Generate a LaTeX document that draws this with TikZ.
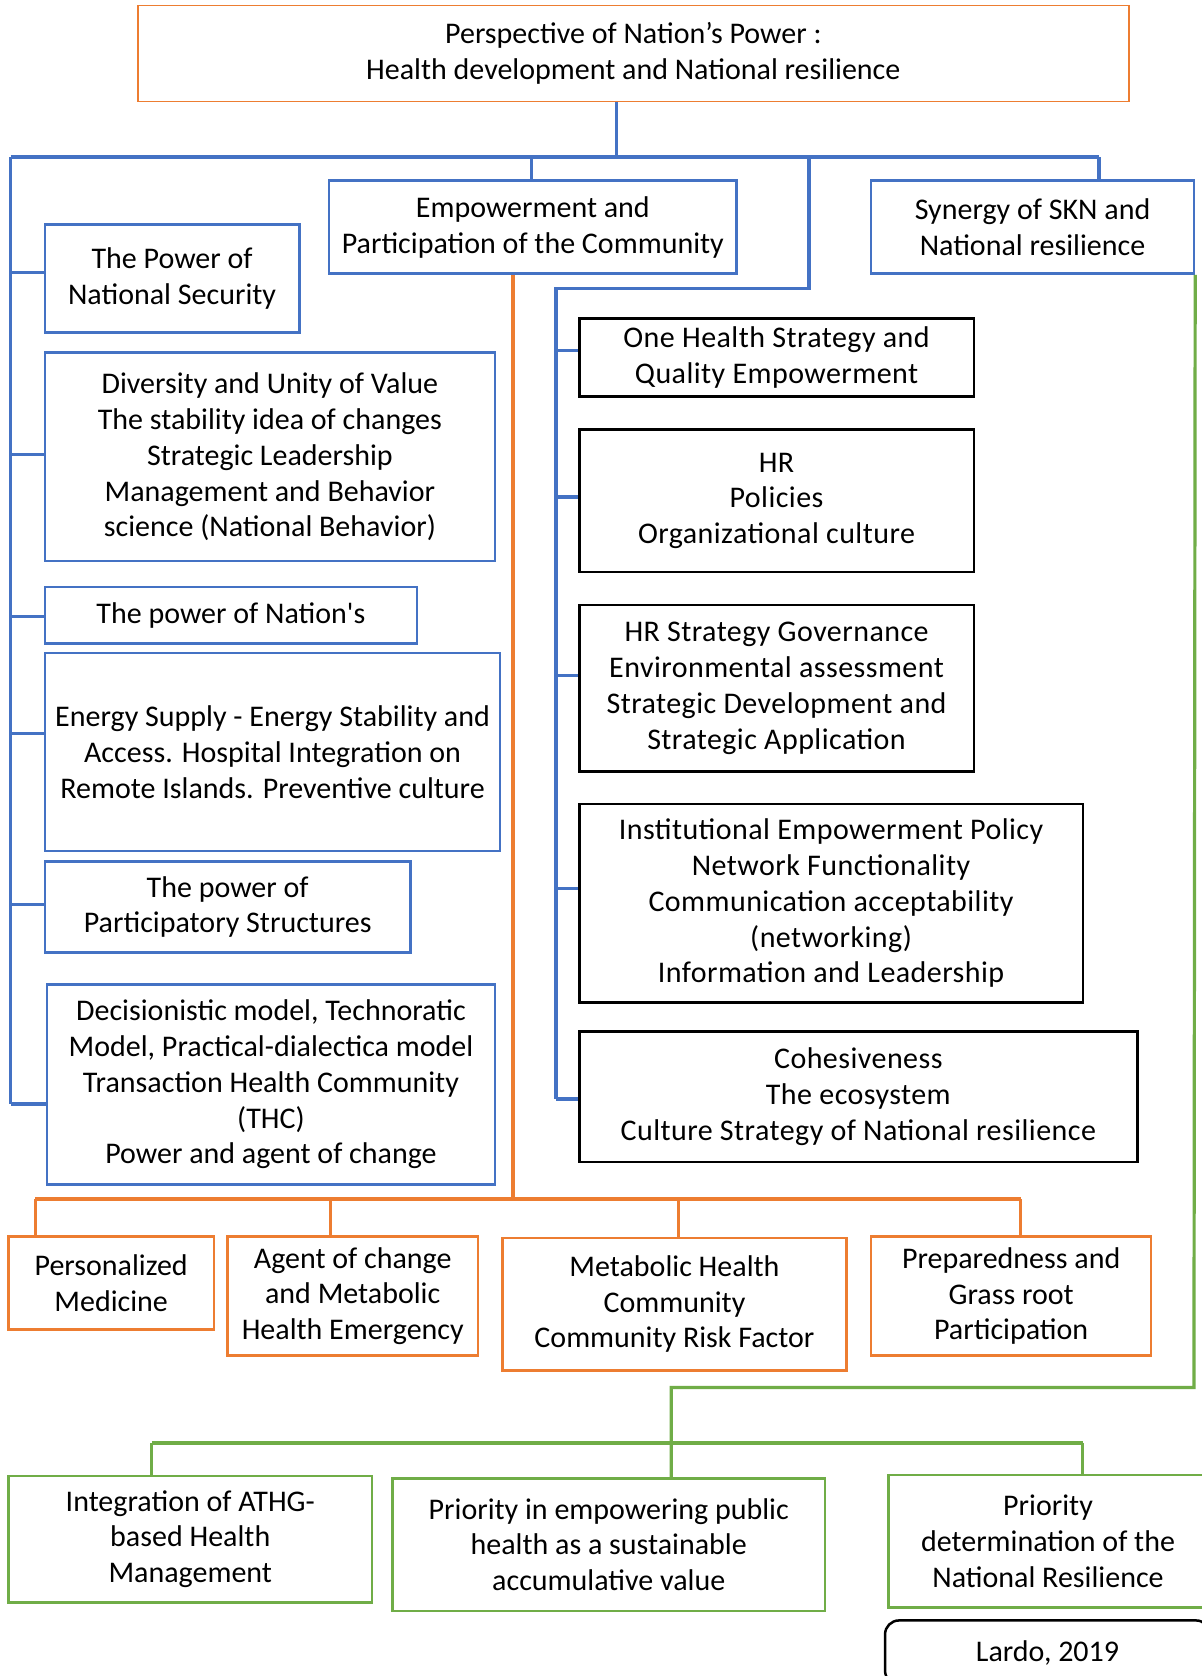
\documentclass[tikz,border=0pt]{standalone}
\usepackage{fontspec}
\setmainfont{Carlito}[Ligatures=TeXOff]
\newfontfamily\widefont{Carlito}[Ligatures=TeXOff, LetterSpace=1.5]
\definecolor{oblue}{HTML}{4472C4}
\definecolor{oorange}{HTML}{ED7D31}
\definecolor{ogreen}{HTML}{70AD47}
\newcommand\boxnode[7]{\node[#1, minimum width={(#5-#3)*1.0685pt}, minimum height={(#6-#4)*1.0685pt}] (#2) at ({(#3+#5)/2},{(#4+#6)/2}) {#7};}
\tikzset{
  basebox/.style={rectangle, align=center, inner sep=0pt, font=\fontsize{30}{35.8}\selectfont},
  topbox/.style={basebox, draw=oorange, line width=1.5pt},
  bluebox/.style={basebox, draw=oblue, line width=2.5pt},
  blackbox/.style={basebox, draw=black, line width=2.5pt, font=\widefont\fontsize{30}{35.8}\selectfont},
  orangebox/.style={basebox, draw=oorange, line width=2.5pt},
  greenbox/.style={basebox, draw=ogreen, line width=2.5pt},
  lardobox/.style={basebox, draw=black, line width=2.5pt, rounded corners=14pt},
  bl/.style={draw=oblue, line width=3.4pt},
  ol/.style={draw=oorange, line width=3.2pt},
  gl/.style={draw=ogreen, line width=3.2pt},
}
\begin{document}
\begin{tikzpicture}[x=1.0685pt,y=-1.0685pt]
\useasboundingbox (0,0) rectangle (1124,1568);
\fill[white] (0,0) rectangle (1124,1568);
% boxes
\boxnode{topbox}{top}{129}{5}{1056}{95}{Perspective of Nation’s Power :\\Health development and National resilience}
\boxnode{bluebox}{emp}{308}{169}{689}{256}{Empowerment and\\Participation of the Community}
\boxnode{bluebox}{syn}{815}{169}{1117}{256}{Synergy of SKN and\\National resilience}
\boxnode{bluebox}{l1}{42}{210}{280}{311}{The Power of\\National Security}
\boxnode{bluebox}{l2}{42}{330}{463}{525}{Diversity and Unity of Value\\The stability idea of changes\\Strategic Leadership\\Management and Behavior\\science (National Behavior)}
\boxnode{bluebox}{l3}{42}{549}{390}{602}{The power of Nation's}
\boxnode{bluebox}{l4}{42}{611}{468}{796}{Energy Supply - Energy Stability and\\Access. Hospital Integration on\\Remote Islands. Preventive culture}
\boxnode{bluebox}{l5}{42}{806}{384}{891}{The power of\\Participatory Structures}
\boxnode{bluebox}{l6}{44}{921}{463}{1108}{Decisionistic model, Technoratic\\Model, Practical-dialectica model\\Transaction Health Community\\(THC)\\Power and agent of change}
\boxnode{blackbox}{r1}{542}{298}{911}{371}{One Health Strategy and\\Quality Empowerment}
\boxnode{blackbox}{r2}{542}{402}{911}{535}{HR\\Policies\\Organizational culture}
\boxnode{blackbox}{r3}{542}{566}{911}{722}{HR Strategy Governance\\Environmental assessment\\Strategic Development and\\Strategic Application}
\boxnode{blackbox}{r4}{542}{752}{1013}{938}{Institutional Empowerment Policy\\Network Functionality\\Communication acceptability\\(networking)\\Information and Leadership}
\boxnode{blackbox}{r5}{542}{965}{1064}{1087}{Cohesiveness\\The ecosystem\\Culture Strategy of National resilience}
\boxnode{orangebox}{o1}{8}{1157}{200}{1244}{Personalized\\Medicine}
\boxnode{orangebox}{o2}{213}{1157}{447}{1268}{Agent of change\\and Metabolic\\Health Emergency}
\boxnode{orangebox}{o3}{470}{1158}{792}{1282}{Metabolic Health\\Community\\Community Risk Factor}
\boxnode{orangebox}{o4}{815}{1157}{1077}{1268}{Preparedness and\\Grass root\\Participation}
\boxnode{greenbox}{g1}{8}{1381}{348}{1499}{Integration of ATHG-\\based Health\\Management}
\boxnode{greenbox}{g2}{367}{1383}{772}{1507}{Priority in empowering public\\health as a sustainable\\accumulative value}
\boxnode{greenbox}{g3}{831}{1380}{1130}{1504}{Priority\\determination of the\\National Resilience}
\boxnode{lardobox}{lardo}{828}{1516}{1132}{1576}{Lardo, 2019}
% blue connectors
\coordinate (t1) at (577,147);
\coordinate (hl) at (10,147);
\coordinate (hr) at (1028,147);
\coordinate (lb) at (10,1033);
\draw[bl] (top.south -| t1) -- (t1);
\draw[bl, line width=4.5pt] (hl) -- (hr);
\draw[bl] (hl) -- (lb);
\coordinate (e1) at (497,147);
\draw[bl] (e1) -- (e1 |- emp.north);
\draw[bl] (hr) -- (hr |- syn.north);
\coordinate (b1) at (10,255);
\coordinate (b2) at (10,425);
\coordinate (b3) at (10,577);
\coordinate (b4) at (10,686);
\coordinate (b5) at (10,846);
\draw[bl] (b1) -- (b1 -| l1.west);
\draw[bl] (b2) -- (b2 -| l2.west);
\draw[bl] (b3) -- (b3 -| l3.west);
\draw[bl] (b4) -- (b4 -| l4.west);
\draw[bl] (b5) -- (b5 -| l5.west);
\draw[bl] (lb) -- (lb -| l6.west);
\coordinate (rt) at (757,147);
\coordinate (rc) at (757,270);
\coordinate (rl) at (520,270);
\coordinate (rb) at (520,1028);
\draw[bl] (rt) -- (rc) -- (rl) -- (rb);
\coordinate (c1) at (520,328);
\coordinate (c2) at (520,465);
\coordinate (c3) at (520,632);
\coordinate (c4) at (520,831);
\draw[bl] (c1) -- (c1 -| r1.west);
\draw[bl] (c2) -- (c2 -| r2.west);
\draw[bl] (c3) -- (c3 -| r3.west);
\draw[bl] (c4) -- (c4 -| r4.west);
\draw[bl] (rb) -- (rb -| r5.west);
% orange connectors
\coordinate (ov) at (480,1122);
\coordinate (oh1) at (33,1122);
\coordinate (oh2) at (309,1122);
\coordinate (oh3) at (635,1122);
\coordinate (oh4) at (955,1122);
\draw[ol] (emp.south -| ov) -- (ov);
\draw[ol, line width=4pt] (oh1) -- (oh4);
\draw[ol] (oh1) -- (oh1 |- o1.north);
\draw[ol] (oh2) -- (oh2 |- o2.north);
\draw[ol] (oh3) -- (oh3 |- o3.north);
\draw[ol] (oh4) -- (oh4 |- o4.north);
% green connectors
\coordinate (gc) at (1117,1298);
\coordinate (gm) at (628,1298);
\coordinate (gh1) at (142,1350);
\coordinate (gh2) at (1013,1350);
\draw[gl] (syn.south east) -- (gc) -- (gm) -- (gm |- g2.north);
\draw[gl] (gh1) -- (gh2);
\draw[gl] (gh1) -- (gh1 |- g1.north);
\draw[gl] (gh2) -- (gh2 |- g3.north);
\end{tikzpicture}
\end{document}
